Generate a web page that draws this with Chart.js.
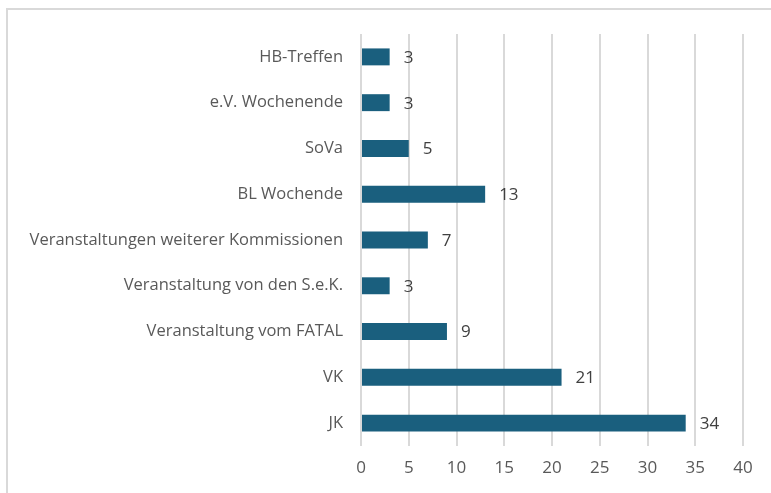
<!DOCTYPE html>
<html>
<head>
<meta charset="utf-8">
<script src="https://cdn.jsdelivr.net/npm/chart.js@4"></script>
<style>
  html, body { margin: 0; padding: 0; background: #fff; overflow: hidden; }
  #frame { position: absolute; left: 6px; top: 8px; width: 800px; height: 520px; border: 2px solid #d9d9d9; box-sizing: border-box; }
  #wrap { position: absolute; left: 0; top: 0; width: 771px; height: 493px; }
</style>
</head>
<body>
<div id="frame"></div>
<div id="wrap"><canvas id="chart"></canvas></div>
<script>
const categories = [
  'HB-Treffen',
  'e.V. Wochenende',
  'SoVa',
  'BL Wochende',
  'Veranstaltungen weiterer Kommissionen',
  'Veranstaltung von den S.e.K.',
  'Veranstaltung vom FATAL',
  'VK',
  'JK'
];
const counts = [3, 3, 5, 13, 7, 3, 9, 21, 34];
const xTicks = [0, 5, 10, 15, 20, 25, 30, 35, 40];

const fontFamily = "'Open Sans', 'DejaVu Sans', sans-serif";

// value labels at the end of each bar
const valueLabels = {
  id: 'valueLabels',
  afterDatasetsDraw(chart) {
    const ctx = chart.ctx;
    const meta = chart.getDatasetMeta(0);
    ctx.save();
    ctx.font = '17px ' + fontFamily;
    ctx.fillStyle = '#404040';
    ctx.textBaseline = 'middle';
    ctx.textAlign = 'left';
    meta.data.forEach((bar, i) => {
      ctx.fillText(String(counts[i]), bar.x + 14, bar.y + 1);
    });
    ctx.restore();
  }
};

new Chart(document.getElementById('chart'), {
  type: 'bar',
  data: {
    labels: categories,
    datasets: [{
      data: counts,
      backgroundColor: '#1a5f7e',
      borderWidth: 0,
      categoryPercentage: 1,
      barPercentage: 0.37
    }]
  },
  options: {
    indexAxis: 'y',
    responsive: true,
    maintainAspectRatio: false,
    animation: false,
    layout: { padding: { top: 34, right: 28, left: 0, bottom: 0 } },
    plugins: {
      legend: { display: false },
      tooltip: { enabled: false }
    },
    scales: {
      x: {
        min: 0,
        max: 40,
        afterBuildTicks(scale) { scale.ticks = xTicks.map(v => ({value: v})); },
        afterFit(scale) { scale.height = 493 - 446; },
        grid: { color: '#d9d9d9', lineWidth: 2, drawTicks: false },
        border: { display: false },
        ticks: {
          padding: 12,
          color: '#595959',
          font: { family: fontFamily, size: 17 }
        }
      },
      y: {
        afterFit(scale) { scale.width = 361; },
        grid: { display: false, drawTicks: false },
        border: { display: false },
        ticks: {
          padding: 18,
          color: '#595959',
          font: { family: fontFamily, size: 16.5 }
        }
      }
    }
  },
  plugins: [valueLabels]
});
</script>
</body>
</html>
